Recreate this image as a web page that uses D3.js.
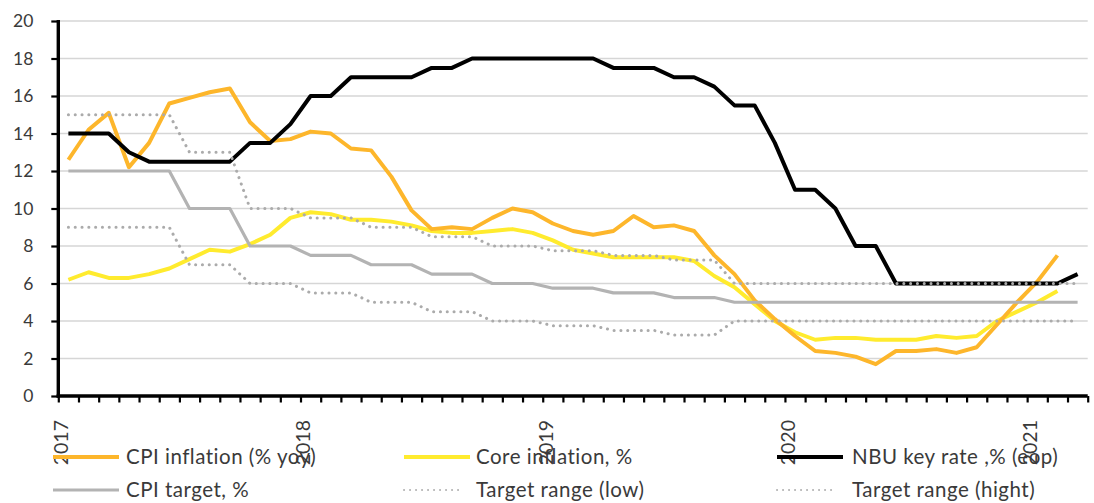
<!DOCTYPE html>
<html><head><meta charset="utf-8">
<script src="https://cdn.jsdelivr.net/npm/d3@7"></script>
<style>
html,body{margin:0;padding:0;background:#fff;}
svg{display:block;font-family:Lato,"Open Sans",sans-serif;}
</style></head>
<body><svg id="chart" width="1094" height="503"></svg>
<script>
const months = [
 "2017-01","2017-02","2017-03","2017-04","2017-05","2017-06","2017-07","2017-08","2017-09","2017-10","2017-11","2017-12",
 "2018-01","2018-02","2018-03","2018-04","2018-05","2018-06","2018-07","2018-08","2018-09","2018-10","2018-11","2018-12",
 "2019-01","2019-02","2019-03","2019-04","2019-05","2019-06","2019-07","2019-08","2019-09","2019-10","2019-11","2019-12",
 "2020-01","2020-02","2020-03","2020-04","2020-05","2020-06","2020-07","2020-08","2020-09","2020-10","2020-11","2020-12",
 "2021-01","2021-02","2021-03"];
const yearLabels = ["2017","2018","2019","2020","2021"];
const yTicks = [0,2,4,6,8,10,12,14,16,18,20];

const cpi = [12.6,14.2,15.1,12.2,13.5,15.6,15.9,16.2,16.4,14.6,13.6,13.7,
 14.1,14.0,13.2,13.1,11.7,9.9,8.9,9.0,8.9,9.5,10.0,9.8,
 9.2,8.8,8.6,8.8,9.6,9.0,9.1,8.8,7.5,6.5,5.1,4.1,
 3.2,2.4,2.3,2.1,1.7,2.4,2.4,2.5,2.3,2.6,3.8,5.0,
 6.1,7.5];
const core = [6.2,6.6,6.3,6.3,6.5,6.8,7.3,7.8,7.7,8.1,8.6,9.5,
 9.8,9.7,9.4,9.4,9.3,9.1,8.8,8.7,8.7,8.8,8.9,8.7,
 8.3,7.8,7.6,7.4,7.4,7.4,7.4,7.2,6.4,5.8,4.9,4.0,
 3.4,3.0,3.1,3.1,3.0,3.0,3.0,3.2,3.1,3.2,4.0,4.5,
 5.0,5.6];
const keyRate = [14,14,14,13,12.5,12.5,12.5,12.5,12.5,13.5,13.5,14.5,
 16,16,17,17,17,17,17.5,17.5,18,18,18,18,
 18,18,18,17.5,17.5,17.5,17,17,16.5,15.5,15.5,13.5,
 11,11,10,8,8,6,6,6,6,6,6,6,
 6,6,6.5];
const cpiTarget = [12,12,12,12,12,12,10,10,10,8,8,8,
 7.5,7.5,7.5,7,7,7,6.5,6.5,6.5,6,6,6,
 5.75,5.75,5.75,5.5,5.5,5.5,5.25,5.25,5.25,5,5,5,
 5,5,5,5,5,5,5,5,5,5,5,5,
 5,5,5];
const targetLow = [9,9,9,9,9,9,7,7,7,6,6,6,
 5.5,5.5,5.5,5,5,5,4.5,4.5,4.5,4,4,4,
 3.75,3.75,3.75,3.5,3.5,3.5,3.25,3.25,3.25,4,4,4,
 4,4,4,4,4,4,4,4,4,4,4,4,
 4,4,4];
const targetHigh = [15,15,15,15,15,15,13,13,13,10,10,10,
 9.5,9.5,9.5,9,9,9,8.5,8.5,8.5,8,8,8,
 7.75,7.75,7.75,7.5,7.5,7.5,7.25,7.25,7.25,6,6,6,
 6,6,6,6,6,6,6,6,6,6,6,6,
 6,6,6];

const seriesNames = ["CPI inflation (% yoy)","Core inflation, %","NBU key rate ,% (eop)","CPI target, %","Target range (low)","Target range (hight)"];

const svg = d3.select("#chart");
const L = 58.3, R = 1087.7, T = 21, B = 396;
const x = d3.scaleBand().domain(months).range([L, R]).padding(0);
const xEdge = d3.scaleLinear().domain([0, months.length]).range([L, R]);
const y = d3.scaleLinear().domain([0, 20]).range([B, T]);
const cx = m => x(m) + x.bandwidth() / 2;
const textColor = "#3a3a3a";

// gridlines
svg.append("g").selectAll("line").data(yTicks.filter(v => v > 0)).join("line")
  .attr("x1", L).attr("x2", R).attr("y1", d => y(d)).attr("y2", d => y(d))
  .attr("stroke", "#d6d6d6").attr("stroke-width", 1.3);

const styles = [
  {data: core, color: "#FFEB2E", w: 4, dash: null, key: 1},
  {data: cpi, color: "#FDB62B", w: 4, dash: null, key: 0},
  {data: keyRate, color: "#000000", w: 4, dash: null, key: 2},
  {data: cpiTarget, color: "#B3B3B3", w: 3.2, dash: null, key: 3},
  {data: targetLow, color: "#ABABAB", w: 3, dash: "0.1 6.7", key: 4},
  {data: targetHigh, color: "#ABABAB", w: 3, dash: "0.1 6.7", key: 5}
];
const line = d3.line().x(d => cx(d.m)).y(d => y(d.v));
styles.forEach(s => {
  const pts = s.data.map((v, i) => ({m: months[i], v}));
  svg.append("path").datum(pts).attr("d", line)
    .attr("fill", "none").attr("stroke", s.color).attr("stroke-width", s.w)
    .attr("stroke-linejoin", "round")
    .attr("stroke-linecap", s.dash ? "round" : "butt")
    .attr("stroke-dasharray", s.dash);
});

// y axis
const yAxis = svg.append("g").attr("transform", `translate(${L},0)`)
  .call(d3.axisLeft(y).tickValues(yTicks).tickSize(7).tickPadding(18).tickSizeOuter(0));
yAxis.select(".domain").remove();
yAxis.selectAll(".tick line").attr("stroke", "#000").attr("stroke-width", 2.2);
yAxis.selectAll("text").attr("font-size", 17.5).attr("fill", textColor).attr("font-family", "Lato");
svg.append("line").attr("x1", L).attr("x2", L).attr("y1", T - 1).attr("y2", B + 1.5)
  .attr("stroke", "#000").attr("stroke-width", 3.4);

// x axis
const xAxis = svg.append("g").attr("transform", `translate(0,${B})`)
  .call(d3.axisBottom(xEdge).tickValues(d3.range(months.length + 1)).tickSize(6.5).tickFormat("").tickSizeOuter(0));
xAxis.select(".domain").remove();
xAxis.selectAll(".tick line").attr("stroke", "#000").attr("stroke-width", 2.2);
svg.append("line").attr("x1", L - 1.7).attr("x2", R).attr("y1", B).attr("y2", B)
  .attr("stroke", "#000").attr("stroke-width", 3.4);

// year labels
svg.append("g").selectAll("text").data(yearLabels).join("text")
  .attr("transform", d => `translate(${x(d + "-01") + 3},420) rotate(-90)`)
  .attr("text-anchor", "end").attr("dy", "0.35em")
  .attr("font-size", 19.5).attr("fill", textColor).text(d => d);

// legend
const legendPos = [
  {lx: 53, tx: 126, ly: 457}, {lx: 404, tx: 476, ly: 457}, {lx: 777, tx: 852, ly: 457},
  {lx: 53, tx: 126, ly: 490}, {lx: 404, tx: 476, ly: 490}, {lx: 777, tx: 852, ly: 490}
];
const leg = svg.append("g");
styles.forEach(s => {
  const p = legendPos[s.key];
  leg.append("line").attr("x1", p.lx).attr("x2", p.lx + (s.dash ? 60 : 66))
    .attr("y1", p.ly).attr("y2", p.ly)
    .attr("stroke", s.color).attr("stroke-width", s.dash ? 1.8 : s.w)
    .attr("stroke-linecap", s.dash ? "round" : "butt")
    .attr("stroke-dasharray", s.dash ? "0.1 5.9" : null);
  leg.append("text").attr("x", p.tx).attr("y", p.ly).attr("dy", "0.35em")
    .attr("font-size", 20.5).attr("letter-spacing", 0.5)
    .attr("fill", textColor).text(seriesNames[s.key]);
});
</script></body></html>
